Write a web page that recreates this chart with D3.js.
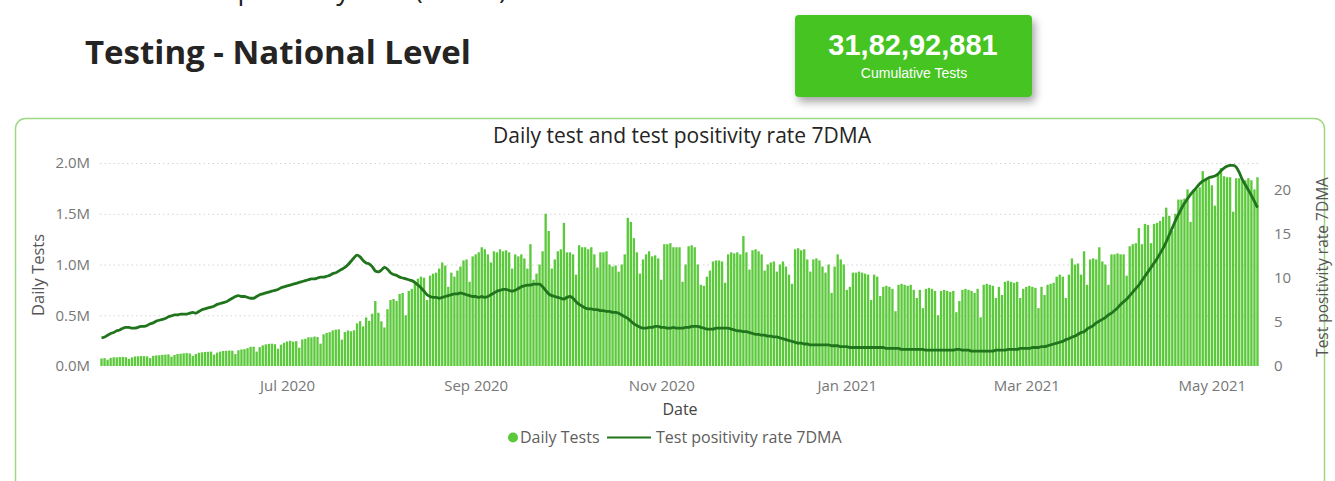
<!DOCTYPE html>
<html lang="en">
<head>
<meta charset="UTF-8">
<title>Testing - National Level</title>
<script src="https://cdn.jsdelivr.net/npm/d3@7/dist/d3.min.js"></script>
<style>
  html, body { margin: 0; padding: 0; background: #fff; }
  svg { display: block; }
  text { font-family: "Open Sans", "Noto Sans", sans-serif; }
</style>
</head>
<body>
<svg id="chart" width="1335" height="481"></svg>
<script>
// first day of the series, one value per day after it
const startDate = "2020-05-01";

// daily tests, in thousands (rows are weeks starting on a Friday)
const dailyTestsK = [
  74, 78, 62, 80, 86, 85, 88,
  90, 87, 70, 85, 94, 96, 98,
  97, 95, 78, 100, 104, 106, 110,
  112, 115, 92, 108, 118, 121, 125,
  127, 124, 100, 118, 130, 135, 138,
  140, 142, 112, 132, 141, 148, 150,
  152, 151, 118, 155, 163, 166, 176,
  189, 190, 142, 186, 203, 213, 218,
  220, 215, 170, 210, 229, 242, 248,
  240, 245, 180, 262, 268, 283, 282,
  290, 285, 220, 312, 326, 333, 350,
  358, 361, 260, 334, 350, 342, 352,
  420, 442, 390, 478, 445, 515, 640,
  525, 440, 380, 560, 650, 660, 640,
  710, 720, 500, 740, 760, 830, 860,
  880, 870, 650, 890, 910, 920, 960,
  1020, 990, 780, 920, 880, 940, 980,
  1040, 1050, 830, 1080, 1100, 1120, 1170,
  1150, 1100, 1020, 1130, 1120, 1150, 1130,
  1140, 1120, 960, 1100, 1080, 1100, 1060,
  960, 1200, 850, 910, 1000, 1130, 1500,
  1330, 960, 1050, 1130, 1150, 1410, 1120,
  1120, 1100, 900, 1190, 1170, 1170, 1150,
  1170, 1100, 970, 1120, 1120, 1130, 1000,
  980, 990, 930, 1000, 1100, 1460, 1420,
  1260, 1120, 910, 1050, 1100, 1130, 1080,
  1090, 1060, 850, 1200, 1200, 1210, 1170,
  1170, 1170, 830, 1000, 1180, 1190, 1170,
  1000, 800, 790, 880, 940, 1030, 1040,
  1040, 1030, 820, 1100, 1120, 1110, 1120,
  1100, 1280, 1120, 950, 1140, 1150, 1130,
  1100, 940, 1000, 1020, 1030, 930, 1000,
  1030, 980, 900, 810, 1150, 1160, 1140,
  1150, 1050, 930, 1050, 1060, 1040, 980,
  920, 1000, 720, 980, 1100, 1050, 1000,
  750, 780, 920, 920, 930, 920, 910,
  900, 650, 900, 880, 690, 780, 790,
  780, 760, 540, 800, 810, 800, 790,
  800, 750, 670, 750, 570, 760, 770,
  760, 740, 500, 740, 750, 740, 730,
  740, 530, 640, 750, 760, 750, 740,
  720, 760, 480, 800, 810, 800, 790,
  670, 780, 700, 830, 840, 830, 820,
  830, 670, 760, 780, 790, 780, 770,
  570, 780, 700, 800, 810, 820, 880,
  900, 880, 670, 900, 1060, 1000, 1010,
  900, 1130, 800, 1050, 1060, 1050, 1170,
  1030, 1000, 800, 1100, 1100, 1110, 1100,
  1100, 890, 1180, 1200, 1210, 1360, 1200,
  1400, 1390, 1210, 1400, 1410, 1430, 1470,
  1560, 1480, 1330, 1500, 1640, 1640, 1650,
  1740, 1420, 1740, 1740, 1760, 1920, 1840,
  1840, 1780, 1580, 1900, 1950, 1870, 1860,
  1860, 1520, 1850, 1850, 1830, 1830, 1850,
  1830, 1740, 1860
];

// test positivity rate, 7 day moving average (%)
const positivity7dma = [
  3.2, 3.3, 3.5, 3.7, 3.8, 4.0, 4.1,
  4.3, 4.4, 4.4, 4.3, 4.3, 4.4, 4.5,
  4.5, 4.6, 4.8, 4.9, 5.1, 5.2, 5.3,
  5.4, 5.6, 5.7, 5.8, 5.8, 5.9, 5.9,
  5.9, 6.0, 6.1, 6.0, 6.2, 6.4, 6.5,
  6.6, 6.7, 6.8, 7.0, 7.1, 7.2, 7.3,
  7.5, 7.7, 7.9, 8.0, 7.9, 7.9, 7.8,
  7.7, 7.7, 7.9, 8.1, 8.2, 8.3, 8.4,
  8.5, 8.6, 8.7, 8.9, 9.0, 9.1, 9.2,
  9.3, 9.4, 9.5, 9.6, 9.7, 9.8, 9.9,
  9.9, 10.0, 10.1, 10.1, 10.2, 10.3, 10.5,
  10.6, 10.8, 11.0, 11.2, 11.5, 11.9, 12.3,
  12.6, 12.4, 12.0, 11.7, 11.6, 11.3, 10.8,
  10.7, 10.9, 11.2, 11.0, 10.6, 10.4, 10.3,
  10.1, 10.0, 9.9, 9.8, 9.7, 9.5, 9.2,
  8.9, 8.5, 8.1, 7.9, 7.8, 7.8, 7.7,
  7.8, 7.9, 8.0, 8.1, 8.2, 8.2, 8.3,
  8.2, 8.1, 8.0, 7.9, 7.9, 7.8, 7.9,
  7.8, 7.9, 8.1, 8.3, 8.5, 8.6, 8.7,
  8.7, 8.6, 8.5, 8.6, 8.8, 9.0, 9.1,
  9.2, 9.2, 9.3, 9.3, 9.3, 9.0, 8.6,
  8.2, 8.0, 7.9, 7.8, 7.7, 7.6, 7.8,
  7.9, 7.7, 7.3, 7.0, 6.8, 6.6, 6.5,
  6.5, 6.4, 6.4, 6.3, 6.3, 6.2, 6.2,
  6.1, 6.1, 6.0, 5.8, 5.6, 5.4, 5.1,
  4.8, 4.6, 4.4, 4.3, 4.3, 4.4, 4.4,
  4.5, 4.5, 4.4, 4.4, 4.3, 4.3, 4.4,
  4.3, 4.3, 4.3, 4.4, 4.4, 4.5, 4.5,
  4.5, 4.4, 4.3, 4.2, 4.2, 4.2, 4.3,
  4.3, 4.3, 4.3, 4.3, 4.2, 4.1, 4.0,
  4.0, 3.9, 3.9, 3.8, 3.7, 3.6, 3.6,
  3.5, 3.5, 3.4, 3.4, 3.3, 3.3, 3.2,
  3.1, 3.0, 2.9, 2.8, 2.7, 2.6, 2.6,
  2.5, 2.5, 2.4, 2.4, 2.4, 2.4, 2.4,
  2.4, 2.4, 2.3, 2.3, 2.3, 2.2, 2.2,
  2.2, 2.1, 2.1, 2.1, 2.1, 2.1, 2.1,
  2.1, 2.1, 2.1, 2.1, 2.1, 2.1, 2.0,
  2.0, 2.0, 2.0, 2.0, 1.9, 1.9, 1.9,
  1.9, 1.9, 1.9, 1.9, 1.9, 1.8, 1.8,
  1.8, 1.8, 1.8, 1.8, 1.8, 1.8, 1.8,
  1.8, 1.9, 1.9, 1.8, 1.8, 1.8, 1.7,
  1.7, 1.7, 1.7, 1.7, 1.7, 1.7, 1.7,
  1.8, 1.8, 1.8, 1.8, 1.9, 1.9, 1.9,
  1.9, 2.0, 2.0, 2.0, 2.0, 2.1, 2.1,
  2.1, 2.2, 2.2, 2.3, 2.4, 2.5, 2.6,
  2.7, 2.8, 3.0, 3.1, 3.3, 3.4, 3.6,
  3.8, 3.9, 4.2, 4.4, 4.6, 4.9, 5.1,
  5.3, 5.5, 5.8, 6.0, 6.3, 6.6, 7.0,
  7.3, 7.6, 8.0, 8.4, 8.8, 9.2, 9.7,
  10.2, 10.7, 11.2, 11.7, 12.2, 12.8, 13.4,
  14.1, 14.9, 15.7, 16.5, 17.2, 17.9, 18.5,
  19.0, 19.5, 19.9, 20.3, 20.7, 21.0, 21.2,
  21.4, 21.5, 21.6, 21.8, 22.2, 22.5, 22.7,
  22.8, 22.8, 22.6, 22.0, 21.2, 20.6, 20.0,
  19.4, 18.7, 18.0
];

const testTicks = [0, 500000, 1000000, 1500000, 2000000];
const rateTicks = [0, 5, 10, 15, 20];
const dateTicks = ["2020-07-01", "2020-09-01", "2020-11-01", "2021-01-01", "2021-03-01", "2021-05-01"];
const cumulativeTests = "31,82,92,881";

const barGreen = "#5cc93c";
const lineGreen = "#1f741c";

const parse = d3.utcParse("%Y-%m-%d");
const day0 = parse(startDate);
const rows = dailyTestsK.map((v, i) => ({
  date: d3.utcDay.offset(day0, i),
  tests: v * 1000,
  rate: positivity7dma[i]
}));

const svg = d3.select("#chart");

const defs = svg.append("defs");
const shadow = defs.append("filter").attr("id", "shadow")
  .attr("x", "-20%").attr("y", "-20%").attr("width", "150%").attr("height", "160%");
shadow.append("feDropShadow")
  .attr("dx", 3).attr("dy", 5).attr("stdDeviation", 4)
  .attr("flood-color", "#000").attr("flood-opacity", 0.35);

// line of text above the page, only its descenders reach into view
svg.append("text")
  .attr("x", 178).attr("y", -1)
  .attr("font-size", 27).attr("fill", "#222")
  .text("Test positivity rate (7DMA)");

// page title
svg.append("text")
  .attr("x", 85).attr("y", 64)
  .attr("font-size", 33).attr("font-weight", 700).attr("fill", "#252423")
  .text("Testing - National Level");

// KPI card
const card = svg.append("g");
card.append("rect")
  .attr("x", 795).attr("y", 15).attr("width", 237).attr("height", 82)
  .attr("rx", 4).attr("fill", "#45c420").attr("filter", "url(#shadow)");
card.append("text")
  .attr("x", 913).attr("y", 55)
  .attr("text-anchor", "middle")
  .style("font-family", "'Liberation Sans', Arial, sans-serif")
  .attr("font-size", 29).attr("font-weight", 700).attr("fill", "#fff")
  .text(cumulativeTests);
card.append("text")
  .attr("x", 914).attr("y", 78)
  .attr("text-anchor", "middle")
  .style("font-family", "'Liberation Sans', Arial, sans-serif")
  .attr("font-size", 14).attr("fill", "#fff")
  .text("Cumulative Tests");

// visual frame
svg.append("rect")
  .attr("x", 15.5).attr("y", 118.5)
  .attr("width", 1309).attr("height", 420)
  .attr("rx", 10)
  .attr("fill", "none").attr("stroke", "#9fd882").attr("stroke-width", 1.5);

svg.append("text")
  .attr("x", 682).attr("y", 143)
  .attr("text-anchor", "middle")
  .attr("font-size", 21).attr("fill", "#252423")
  .text("Daily test and test positivity rate 7DMA");

// scales
const plotLeft = 100, plotRight = 1259, plotTop = 163, plotBottom = 366;
const x = d3.scaleUtc()
  .domain([d3.utcHour.offset(rows[0].date, -12), d3.utcHour.offset(rows[rows.length - 1].date, 12)])
  .range([plotLeft, plotRight]);
const yTests = d3.scaleLinear().domain([0, 2000000]).range([plotBottom, plotTop]);
const yRate = d3.scaleLinear().domain([0, 23.07]).range([plotBottom, plotTop]);

// dotted gridlines
const grid = svg.append("g")
  .attr("transform", `translate(${plotLeft},0)`)
  .call(d3.axisLeft(yTests).tickValues(testTicks.filter(d => d > 0))
    .tickSize(-(plotRight - plotLeft)).tickFormat(""));
grid.select(".domain").remove();
grid.selectAll("line").attr("stroke", "#d4d4d4").attr("stroke-dasharray", "1.5,3");

const tickFont = sel => sel.selectAll("text")
  .attr("fill", "#777").attr("font-size", 15)
  .style("font-family", "'Open Sans', sans-serif");

// left axis
const yAxisL = svg.append("g")
  .attr("transform", `translate(${plotLeft - 10},0)`)
  .call(d3.axisLeft(yTests).tickValues(testTicks).tickSize(0).tickPadding(0)
    .tickFormat(d => (d / 1e6).toFixed(1) + "M"));
yAxisL.select(".domain").remove();
tickFont(yAxisL);

// right axis
const yAxisR = svg.append("g")
  .attr("transform", `translate(${plotRight + 15},0)`)
  .call(d3.axisRight(yRate).tickValues(rateTicks).tickSize(0).tickPadding(0));
yAxisR.select(".domain").remove();
tickFont(yAxisR);

// x axis
const xAxis = svg.append("g")
  .attr("transform", `translate(0,${plotBottom + 9})`)
  .call(d3.axisBottom(x).tickValues(dateTicks.map(parse)).tickSize(0).tickPadding(5)
    .tickFormat(d3.utcFormat("%b %Y")));
xAxis.select(".domain").remove();
tickFont(xAxis);

// axis titles
svg.append("text")
  .attr("transform", "translate(44,275) rotate(-90)")
  .attr("text-anchor", "middle")
  .attr("font-size", 16.5).attr("fill", "#555")
  .text("Daily Tests");
svg.append("text")
  .attr("transform", "translate(1328,267) rotate(-90)")
  .attr("text-anchor", "middle")
  .attr("font-size", 15.5).attr("fill", "#555")
  .text("Test positivity rate 7DMA");
svg.append("text")
  .attr("x", 680).attr("y", 415)
  .attr("text-anchor", "middle")
  .attr("font-size", 16).attr("fill", "#444")
  .text("Date");

// bars
const dayWidth = x(d3.utcDay.offset(rows[0].date, 1)) - x(rows[0].date);
svg.append("g")
  .selectAll("rect")
  .data(rows)
  .join("rect")
  .attr("x", d => x(d.date) - dayWidth / 2 + 0.35)
  .attr("width", dayWidth - 0.7)
  .attr("y", d => yTests(d.tests))
  .attr("height", d => plotBottom - yTests(d.tests))
  .attr("fill", barGreen);

// positivity line
const line = d3.line()
  .x(d => x(d.date))
  .y(d => yRate(d.rate))
  .curve(d3.curveMonotoneX);
svg.append("path")
  .datum(rows)
  .attr("d", line)
  .attr("fill", "none")
  .attr("stroke", lineGreen)
  .attr("stroke-width", 2.8)
  .attr("stroke-linejoin", "round");

// legend
const legend = svg.append("g").attr("transform", "translate(0,443)");
legend.append("circle").attr("cx", 513).attr("cy", -5.5).attr("r", 5).attr("fill", barGreen);
legend.append("text").attr("x", 520).attr("y", 0)
  .attr("font-size", 16).attr("fill", "#605e5c").text("Daily Tests");
legend.append("line").attr("x1", 607).attr("x2", 651).attr("y1", -5.5).attr("y2", -5.5)
  .attr("stroke", lineGreen).attr("stroke-width", 2);
legend.append("text").attr("x", 656).attr("y", 0)
  .attr("font-size", 16).attr("fill", "#605e5c").text("Test positivity rate 7DMA");
</script>
</body>
</html>
